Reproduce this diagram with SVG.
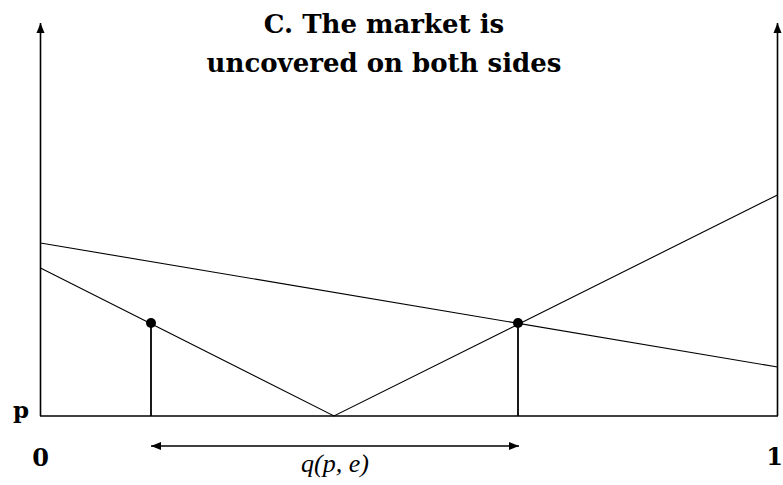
<svg xmlns="http://www.w3.org/2000/svg" width="783" height="485" viewBox="0 0 783 485">
<style>
.ax{stroke:#000;stroke-width:1.6;fill:none}
.ln{stroke:#000;stroke-width:1.1;fill:none}
.vt{stroke:#000;stroke-width:1.8;fill:none}
.b{font-family:"DejaVu Serif","Liberation Serif",serif;font-weight:bold;fill:#000}
.m{font-family:"Liberation Serif",serif;font-style:italic;fill:#000}
</style>
<defs>
<marker id="ah2" viewBox="0 0 10 10" refX="10" refY="5" markerWidth="10" markerHeight="10" markerUnits="userSpaceOnUse" orient="auto-start-reverse">
<path d="M0,1 L10,5 L0,9 z" fill="#000"/>
</marker>
</defs>
<g id="title">
<text class="b" x="384" y="33" font-size="26" text-anchor="middle">C. The market is</text>
<text class="b" x="384" y="72" font-size="26" text-anchor="middle">uncovered on both sides</text>
</g>
<g id="axes">
<line class="ax" x1="40.5" y1="416" x2="40.5" y2="23" marker-end="url(#ah2)"/>
<line class="ax" x1="777.5" y1="416" x2="777.5" y2="23" marker-end="url(#ah2)"/>
<line class="ax" x1="40" y1="416" x2="778" y2="416"/>
</g>
<g id="connectors">
<line class="ln" x1="40.5" y1="243" x2="777.5" y2="367"/>
<polyline class="ln" points="40.5,268 334,416 777.5,195"/>
<line class="vt" x1="151" y1="323" x2="151" y2="416"/>
<line class="vt" x1="518" y1="323" x2="518" y2="416"/>
<line class="ax" x1="151" y1="446" x2="519" y2="446" marker-start="url(#ah2)" marker-end="url(#ah2)"/>
</g>
<g id="point-left"><circle cx="151" cy="323" r="5" fill="#000"/></g>
<g id="point-right"><circle cx="518" cy="323" r="5" fill="#000"/></g>
<g id="labels">
<text class="b" x="21" y="418" font-size="23" text-anchor="middle">p</text>
<text class="b" x="40.5" y="466" font-size="24" text-anchor="middle">0</text>
<text class="b" x="783" y="465" font-size="24" text-anchor="end">1</text>
<text class="m" x="335" y="472" font-size="26" text-anchor="middle">q(p, e)</text>
</g>
</svg>
